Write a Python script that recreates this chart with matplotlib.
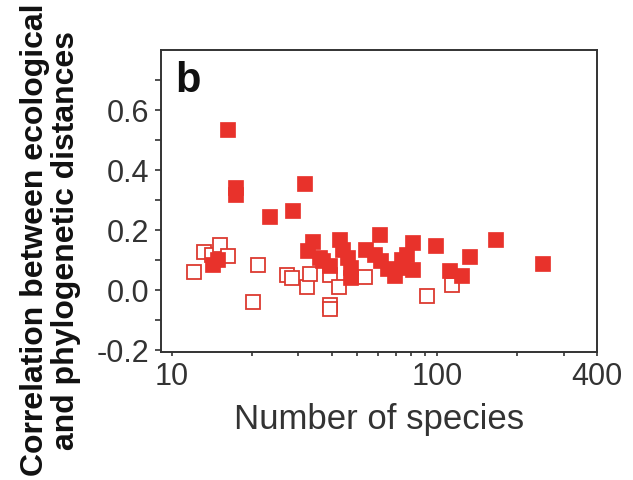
import matplotlib
matplotlib.use('Agg')
import matplotlib.pyplot as plt
from matplotlib.ticker import FixedLocator, NullFormatter

plt.rcParams['font.family'] = ['Liberation Sans', 'DejaVu Sans']

# filled squares: number of species vs correlation
filled_species = [16.2, 17.3, 17.3, 31.4, 28.4, 23.3, 14.2, 14.8,
                  32.3, 33.8, 35.8, 36.8, 39.0, 42.5, 43.8, 45.8,
                  47.1, 47.1, 53.6, 57.6, 60.3, 61.1, 64.5, 68.6,
                  72.8, 73.8, 76.0, 80.5, 80.5, 97.9, 111, 123.5,
                  131.6, 164.8, 247.6]
filled_corr = [0.536, 0.345, 0.32, 0.358, 0.269, 0.247, 0.089, 0.105,
               0.135, 0.165, 0.111, 0.100, 0.085, 0.172, 0.139, 0.111,
               0.078, 0.044, 0.139, 0.122, 0.189, 0.100, 0.075, 0.050,
               0.106, 0.078, 0.122, 0.161, 0.072, 0.150, 0.069, 0.050,
               0.113, 0.172, 0.092]

# open squares
open_species = [12.1, 13.2, 14.2, 15.2, 16.3, 20.3, 21.2, 27.2, 28.4,
                32.3, 33.2, 39.3, 39.3, 39.3, 42.5, 53.6, 91.6, 113.3]
open_corr = [0.061, 0.128, 0.119, 0.150, 0.114, -0.040, 0.083, 0.050, 0.042,
             0.011, 0.054, 0.052, -0.050, -0.062, 0.011, 0.044, -0.020, 0.017]

y_ticks = [-0.2, -0.1, 0.0, 0.1, 0.2, 0.3, 0.4, 0.5, 0.6, 0.7]
y_labels = ['-0.2', '', '0.0', '', '0.2', '', '0.4', '', '0.6', '']
x_major = [10, 100, 400]
x_major_labels = ['10', '100', '400']
x_minor = [20, 30, 40, 50, 60, 70, 80, 90, 200, 300]

red = '#e8322b'
text_col = '#333333'

fig = plt.figure(figsize=(6.33, 4.8), dpi=100)
ax = fig.add_axes([0.2543, 0.2667, 0.6887, 0.6291])

ax.plot(open_species, open_corr, linestyle='none', marker='s', markersize=10.3,
        markerfacecolor='white', markeredgecolor='#dc3a30', markeredgewidth=1.3)
ax.plot(filled_species, filled_corr, linestyle='none', marker='s', markersize=10.8,
        markerfacecolor=red, markeredgecolor=red, markeredgewidth=0.5)

ax.set_xscale('log')
ax.set_xlim(9.1, 400)
ax.set_ylim(-0.205, 0.8)

ax.xaxis.set_major_locator(FixedLocator(x_major))
ax.set_xticklabels(x_major_labels)
ax.xaxis.set_minor_locator(FixedLocator(x_minor))
ax.xaxis.set_minor_formatter(NullFormatter())
ax.set_yticks(y_ticks)
ax.set_yticklabels(y_labels)

ax.tick_params(axis='both', which='both', direction='out', color=text_col,
               labelcolor=text_col, labelsize=22, width=1.2)
ax.tick_params(axis='y', length=4.5, pad=4)
ax.tick_params(axis='x', which='both', length=3, pad=4)

for sp in ax.spines.values():
    sp.set_color(text_col)
    sp.set_linewidth(1.4)

ax.set_xlabel('Number of species', fontsize=25, color=text_col, labelpad=8)
fig.text(0.08, 0.5, 'Correlation between ecological\nand phylogenetic distances',
         rotation=90, ha='center', va='center', multialignment='center',
         fontsize=23, fontweight='bold', color='#111111', linespacing=1.05)

ax.text(0.032, 0.861, 'b', transform=ax.transAxes, fontsize=30,
        fontweight='bold', color='#111111', va='baseline', ha='left')

fig.savefig('out.png', dpi=100)
